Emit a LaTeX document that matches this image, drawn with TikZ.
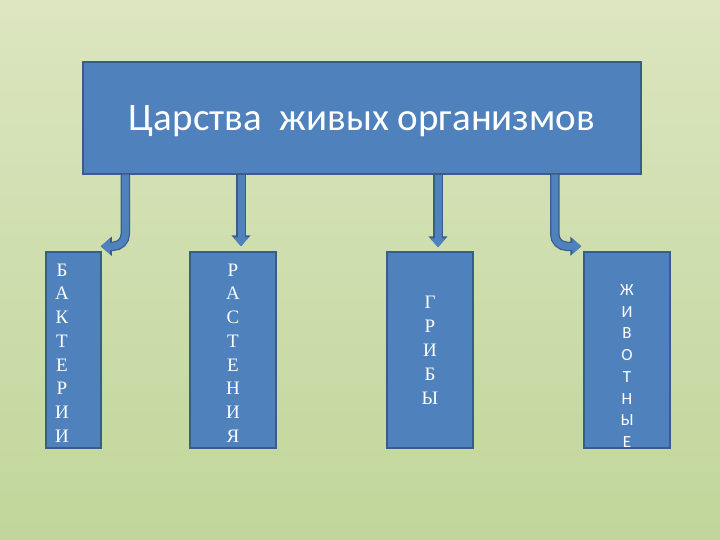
\documentclass[tikz,border=0pt]{standalone}
\usepackage{fontspec}
\setmainfont{Liberation Serif}
\newfontfamily\titlefont{Carlito}
\usetikzlibrary{arrows.meta,calc}
\definecolor{boxblue}{HTML}{4F81BD}
\definecolor{boxedge}{HTML}{385D8A}
\definecolor{bgtop}{HTML}{DCE5C0}
\definecolor{bgmid}{HTML}{D5E1B5}
\definecolor{bgbottom}{HTML}{C0D69A}
\tikzset{
  kingdom/.style={draw=boxedge, line width=1.5pt, fill=boxblue, minimum width=#1, minimum height=196pt, inner sep=0pt},
  letters/.style={text=white, align=center, inner sep=0pt, font=\fontsize{19}{23.7}\selectfont},
  blockarrow/.style={line width=7pt, boxblue, -{Triangle[length=9pt,width=15pt]},
    preaction={draw=boxedge, line width=9.5pt, -{Triangle[length=11pt,width=18.5pt]}}},
}
\begin{document}
\begin{tikzpicture}[x=1pt,y=-1pt]
  \shade[top color=bgtop, middle color=bgmid, bottom color=bgbottom] (0,0) rectangle (720,540);
  \useasboundingbox (0,0) rectangle (720,540);

  \node[draw=boxedge, line width=1.5pt, fill=boxblue, minimum width=558pt, minimum height=112pt,
    text height=28pt, text depth=2pt,
    text=white, font=\titlefont\fontsize{39}{44}\selectfont] (title) at (362,118) {Царства\ \ живых организмов};

  % the four kingdoms
  \node[kingdom=55pt] (bact) at (73.5,350) {};
  \node[kingdom=86pt] (plant) at (233,350) {};
  \node[kingdom=86pt] (fungi) at (430,350) {};
  \node[kingdom=86pt] (anim) at (627,350) {};

  \node[letters] (bact-text) at (62,353) {Б\\А\\К\\Т\\Е\\Р\\И\\И};
  \node[letters] (plant-text) at (233,353) {Р\\А\\С\\Т\\Е\\Н\\И\\Я};
  \node[letters, font=\fontsize{19}{24}\selectfont] (fungi-text) at (430,350) {Г\\Р\\И\\Б\\Ы};
  \node[letters, font=\titlefont\fontsize{17}{21.7}\selectfont] (anim-text) at (627,366) {Ж\\И\\В\\О\\Т\\Н\\Ы\\Е};

  % arrows
  \coordinate (bact-out) at ($(title.south west)+(43,0)$);
  \coordinate (bact-in) at ($(bact.north east)+(-1,-5)$);
  \coordinate (plant-in) at ($(plant.north)+(8,-5)$);
  \coordinate (fungi-in) at ($(fungi.north)+(8,-4)$);
  \coordinate (anim-out) at ($(title.south east)+(-87,0)$);
  \coordinate (anim-in) at ($(anim.north west)+(-2,-5)$);

  \draw[blockarrow, rounded corners=12pt] (bact-out) |- (bact-in);
  \draw[blockarrow] (title.south -| plant-in) -- (plant-in);
  \draw[blockarrow] (title.south -| fungi-in) -- (fungi-in);
  \draw[blockarrow, rounded corners=12pt] (anim-out) |- (anim-in);
\end{tikzpicture}
\end{document}
